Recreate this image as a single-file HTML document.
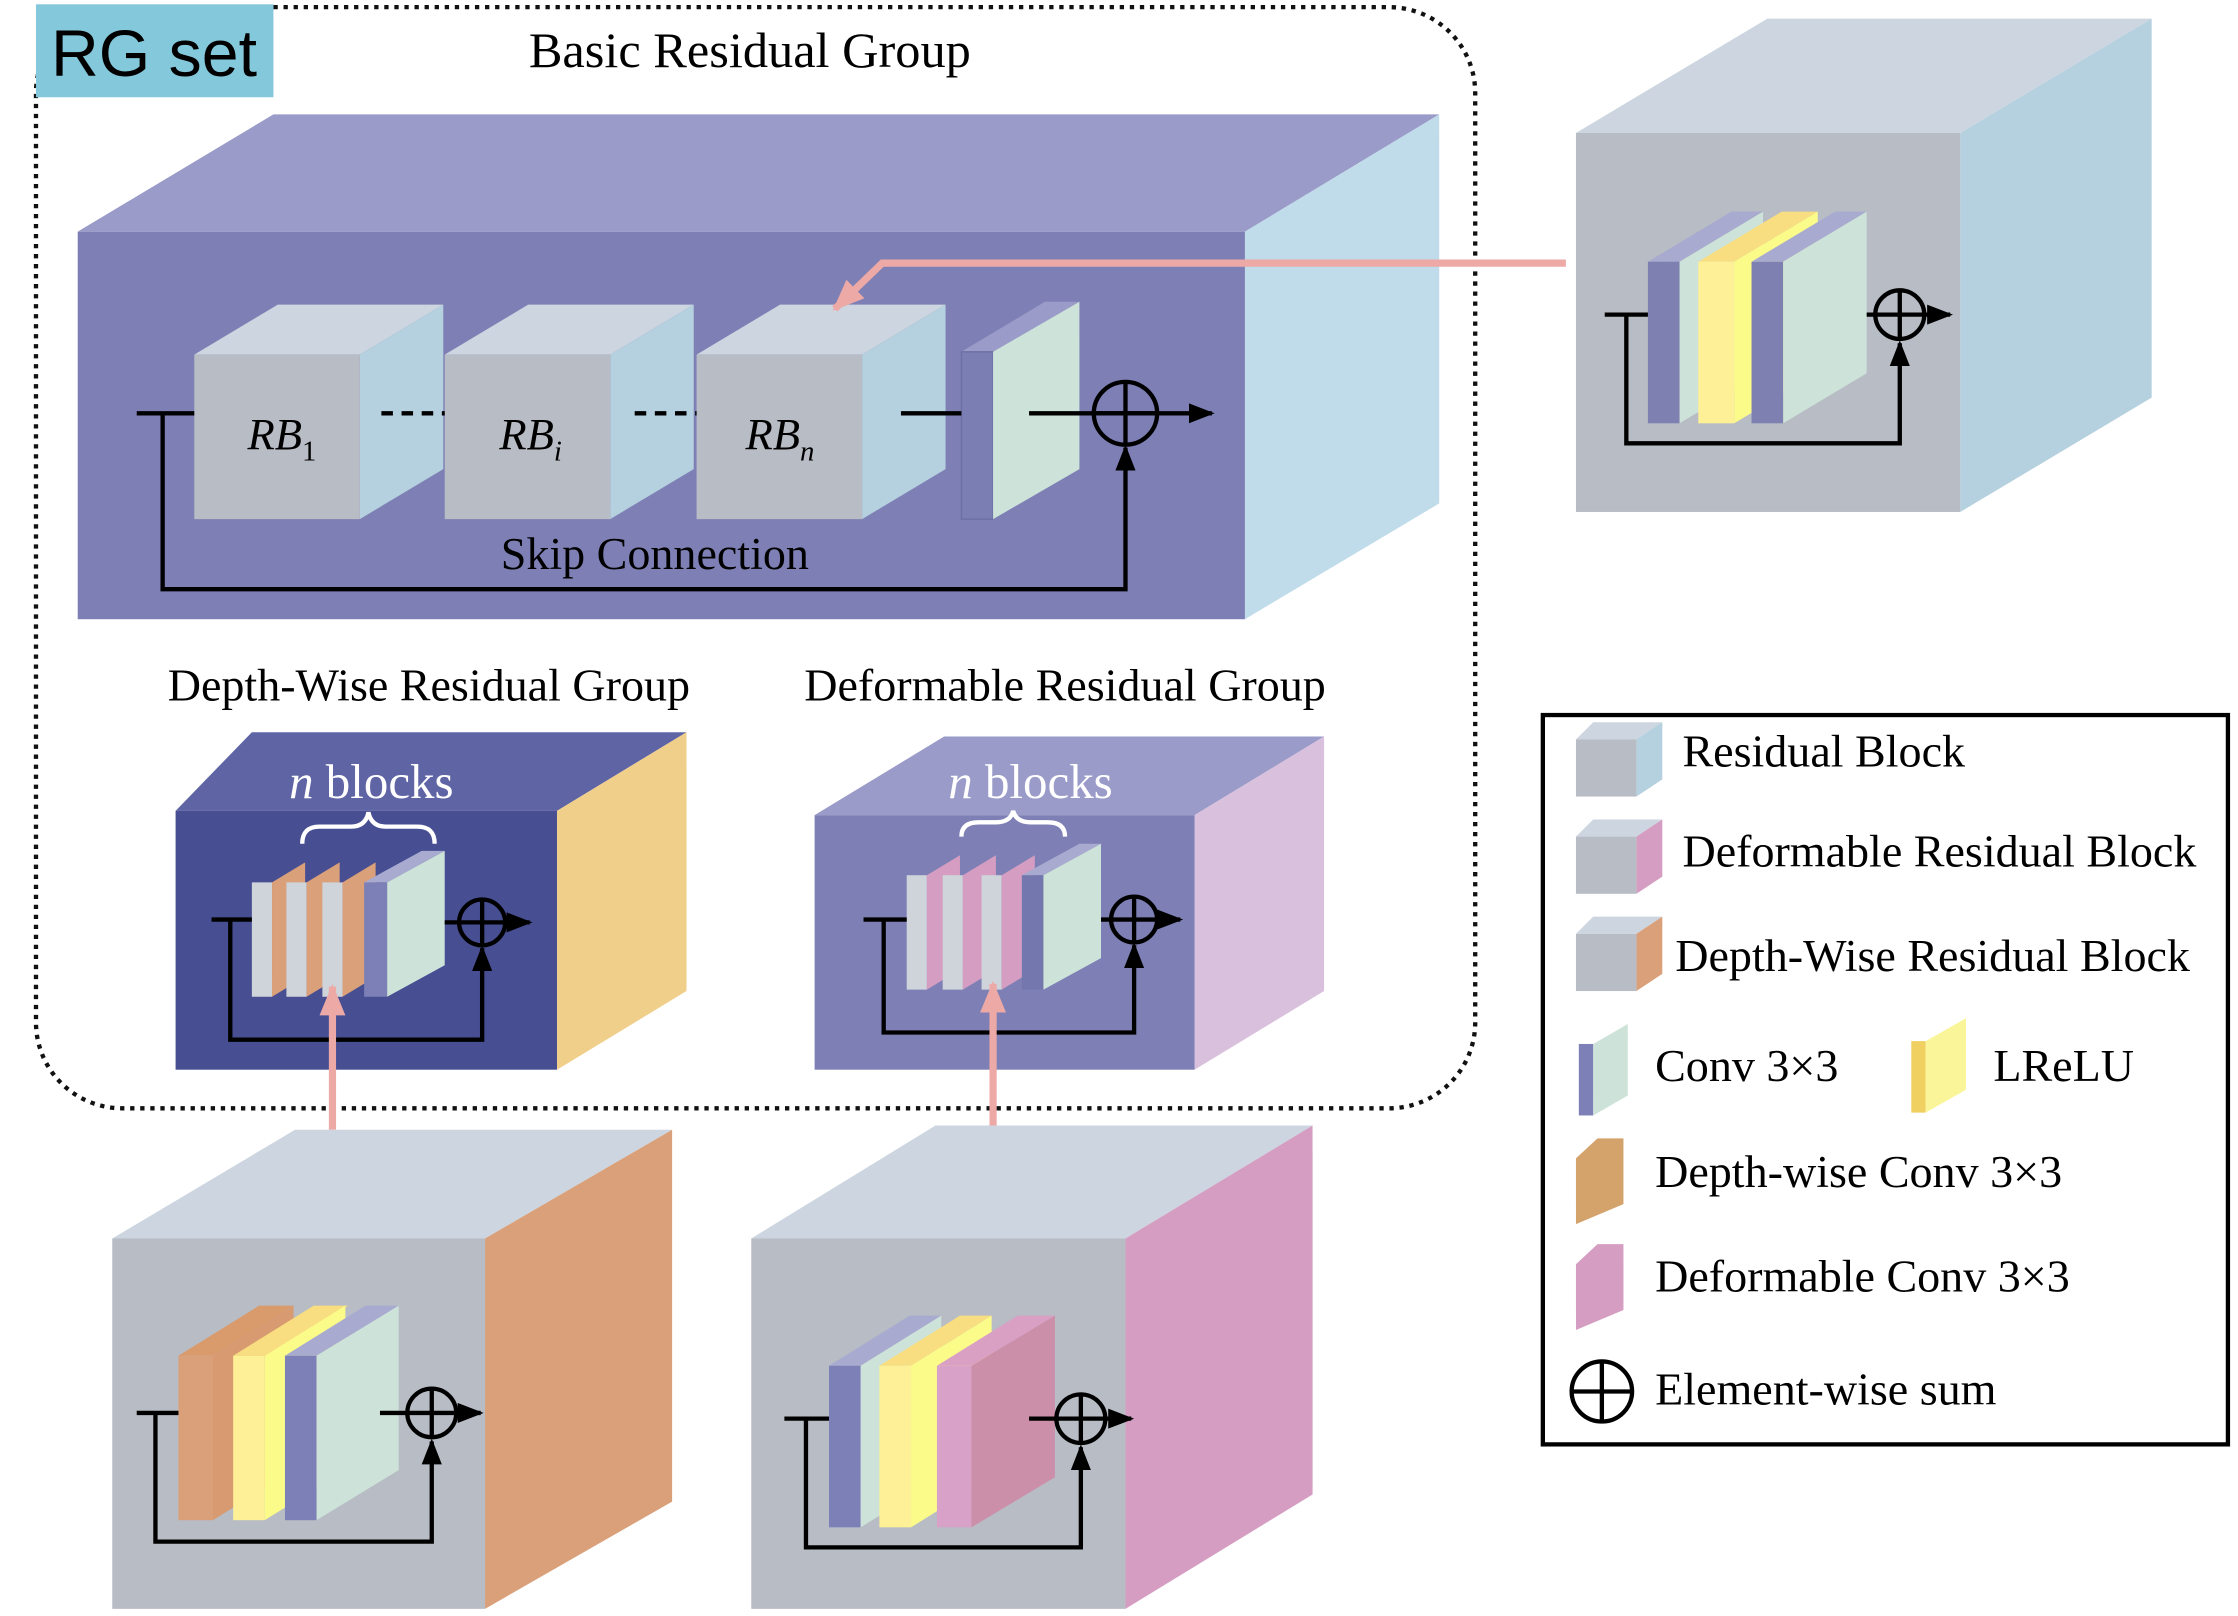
<!DOCTYPE html>
<html><head><meta charset="utf-8"><style>
html,body{margin:0;padding:0;background:#fff}
svg{display:block}
text{font-family:"Liberation Serif",serif}
</style></head><body>
<svg width="2238" height="1616" viewBox="0 0 1555 1130" preserveAspectRatio="none" xmlns="http://www.w3.org/2000/svg">
<defs>
<marker id="ab" markerWidth="18" markerHeight="14" refX="16" refY="7" orient="auto" markerUnits="userSpaceOnUse"><path d="M0,0 L18,7 L0,14 Z" fill="#000"/></marker>
<marker id="ap" markerWidth="22" markerHeight="18" refX="20" refY="9" orient="auto" markerUnits="userSpaceOnUse"><path d="M0,0 L22,9 L0,18 Z" fill="#eda9a6"/></marker>
</defs>

<rect x="25" y="5" width="1000" height="770" rx="60" fill="none" stroke="#111" stroke-width="3" stroke-dasharray="3,4"/>
<rect x="25" y="3" width="165" height="65" fill="#84c8dc"/>
<text x="107" y="53" text-anchor="middle" font-size="46" style="font-family:'Liberation Sans',sans-serif">RG set</text>
<text x="521" y="47" text-anchor="middle" font-size="35">Basic Residual Group</text>

<polygon points="54,162 190,80 1000,80 865,162" fill="#9a9bc8"/>
<polygon points="865,162 1000,80 1000,352 865,433" fill="#c0dcea"/>
<rect x="54" y="162" width="811" height="271" fill="#7e80b5"/>

<g id="rb">
<polygon points="135,248 193,213 308,213 250,248" fill="#cdd6e0"/>
<polygon points="250,248 308,213 308,328 250,363" fill="#b5d0de"/>
<rect x="135" y="248" width="115" height="115" fill="#b8bcc4"/>
</g>
<use href="#rb" x="174"/>
<use href="#rb" x="349"/>
<text x="172" y="314" font-size="31" font-style="italic">RB<tspan font-size="20" dy="8" font-style="normal">1</tspan></text>
<text x="347" y="314" font-size="31" font-style="italic">RB<tspan font-size="20" dy="8">i</tspan></text>
<text x="518" y="314" font-size="31" font-style="italic">RB<tspan font-size="20" dy="8">n</tspan></text>
<line x1="265" y1="289" x2="309" y2="289" stroke="#000" stroke-width="3" stroke-dasharray="8,6"/>
<line x1="441" y1="289" x2="484" y2="289" stroke="#000" stroke-width="3" stroke-dasharray="8,6"/>
<polygon points="668,246 726,211 750,211 690,246" fill="#9a9bc8"/>
<rect x="668" y="246" width="22" height="117" fill="#7a7eb2" stroke="#6c70a4" stroke-width="1"/>
<polygon points="690,246 750,211 750,328 690,363" fill="#cde3d9"/>
<line x1="95" y1="289" x2="135" y2="289" stroke="#000" stroke-width="3"/>
<line x1="626" y1="289" x2="668" y2="289" stroke="#000" stroke-width="3"/>
<line x1="715" y1="289" x2="842" y2="289" stroke="#000" stroke-width="3" marker-end="url(#ab)"/>
<circle cx="782" cy="289" r="22" fill="none" stroke="#000" stroke-width="3"/>
<line x1="760" y1="289" x2="804" y2="289" stroke="#000" stroke-width="3"/>
<line x1="782" y1="267" x2="782" y2="311" stroke="#000" stroke-width="3"/>
<polyline points="113,289 113,412 782,412 782,313" fill="none" stroke="#000" stroke-width="3" marker-end="url(#ab)"/>
<text x="455" y="398" text-anchor="middle" font-size="32">Skip Connection</text>

<polygon points="1095,93 1228,13 1495,13 1362,93" fill="#cdd6e0"/>
<polygon points="1362,93 1495,13 1495,278 1362,358" fill="#b5d0de"/>
<rect x="1095" y="93" width="267" height="265" fill="#b8bcc4"/>
<g>
<polygon points="1145,183 1203,148 1225,148 1167,183" fill="#a8aad0"/>
<rect x="1145" y="183" width="22" height="113" fill="#7d80b0"/>
<polygon points="1167,183 1225,148 1225,261 1167,296" fill="#cde3d9"/>
<polygon points="1180,183 1238,148 1263,148 1205,183" fill="#f8de80"/>
<rect x="1180" y="183" width="25" height="113" fill="#fdf096"/>
<polygon points="1205,183 1263,148 1263,261 1205,296" fill="#fbfb8a"/>
<polygon points="1217,183 1275,148 1297,148 1239,183" fill="#a8aad0"/>
<rect x="1217" y="183" width="22" height="113" fill="#7d80b0"/>
<polygon points="1239,183 1297,148 1297,261 1239,296" fill="#cde3d9"/>
</g>
<line x1="1115" y1="220" x2="1145" y2="220" stroke="#000" stroke-width="3"/>
<line x1="1297" y1="220" x2="1355" y2="220" stroke="#000" stroke-width="3" marker-end="url(#ab)"/>
<circle cx="1320" cy="220" r="17" fill="none" stroke="#000" stroke-width="3"/>
<line x1="1320" y1="203" x2="1320" y2="237" stroke="#000" stroke-width="3"/>
<polyline points="1130,220 1130,310 1320,310 1320,240" fill="none" stroke="#000" stroke-width="3" marker-end="url(#ab)"/>
<polyline points="1088,184 613,184 580,216" fill="none" stroke="#eda9a6" stroke-width="5" marker-end="url(#ap)"/>

<text x="298" y="490" text-anchor="middle" font-size="32">Depth-Wise Residual Group</text>
<polygon points="122,567 175,512 477,512 387,567" fill="#5f64a5"/>
<polygon points="387,567 477,512 477,693 387,748" fill="#f0cf8a"/>
<rect x="122" y="567" width="265" height="181" fill="#474e92"/>
<text x="258" y="558" text-anchor="middle" font-size="34" fill="#fff"><tspan font-style="italic">n</tspan> blocks</text>
<path d="M210,590 q0,-12 12,-12 h22 q10,0 12,-10 q2,10 12,10 h22 q12,0 12,12" fill="none" stroke="#fff" stroke-width="3"/>
<g>
<rect x="175" y="617" width="14" height="80" fill="#cfd3da"/><polygon points="189,617 212,603 212,683 189,697" fill="#d9a07a"/>
<rect x="199" y="617" width="14" height="80" fill="#cfd3da"/><polygon points="213,617 236,603 236,683 213,697" fill="#d9a07a"/>
<rect x="224" y="617" width="14" height="80" fill="#cfd3da"/><polygon points="238,617 261,603 261,683 238,697" fill="#d9a07a"/>
<polygon points="253,617 293,595 309,595 269,617" fill="#a8aad0"/>
<rect x="253" y="617" width="16" height="80" fill="#7d80b6"/><polygon points="269,617 309,595 309,675 269,697" fill="#cde3d9"/>
</g>
<line x1="147" y1="643" x2="175" y2="643" stroke="#000" stroke-width="3"/>
<line x1="309" y1="645" x2="368" y2="645" stroke="#000" stroke-width="3" marker-end="url(#ab)"/>
<circle cx="335" cy="645" r="16" fill="none" stroke="#000" stroke-width="3"/>
<line x1="335" y1="629" x2="335" y2="661" stroke="#000" stroke-width="3"/>
<polyline points="160,643 160,727 335,727 335,663" fill="none" stroke="#000" stroke-width="3" marker-end="url(#ab)"/>

<text x="740" y="490" text-anchor="middle" font-size="32">Deformable Residual Group</text>
<polygon points="566,570 656,515 920,515 830,570" fill="#9a9bc8"/>
<polygon points="830,570 920,515 920,693 830,748" fill="#d9c0dc"/>
<rect x="566" y="570" width="264" height="178" fill="#7e80b5"/>
<text x="716" y="558" text-anchor="middle" font-size="34" fill="#fff"><tspan font-style="italic">n</tspan> blocks</text>
<path d="M668,585 q0,-10 12,-10 h12 q10,0 12,-8 q2,8 12,8 h12 q12,0 12,10" fill="none" stroke="#fff" stroke-width="3"/>
<g>
<rect x="630" y="612" width="14" height="80" fill="#cfd3da"/><polygon points="644,612 667,598 667,678 644,692" fill="#d49dc1"/>
<rect x="655" y="612" width="14" height="80" fill="#cfd3da"/><polygon points="669,612 692,598 692,678 669,692" fill="#d49dc1"/>
<rect x="682" y="612" width="14" height="80" fill="#cfd3da"/><polygon points="696,612 719,598 719,678 696,692" fill="#d49dc1"/>
<polygon points="710,612 750,590 765,590 725,612" fill="#a8aad0"/>
<rect x="710" y="612" width="15" height="80" fill="#7377ad"/><polygon points="725,612 765,590 765,670 725,692" fill="#cde3d9"/>
</g>
<line x1="600" y1="643" x2="630" y2="643" stroke="#000" stroke-width="3"/>
<line x1="765" y1="643" x2="820" y2="643" stroke="#000" stroke-width="3" marker-end="url(#ab)"/>
<circle cx="788" cy="643" r="16" fill="none" stroke="#000" stroke-width="3"/>
<line x1="788" y1="627" x2="788" y2="659" stroke="#000" stroke-width="3"/>
<polyline points="614,643 614,722 788,722 788,661" fill="none" stroke="#000" stroke-width="3" marker-end="url(#ab)"/>

<line x1="231" y1="790" x2="231" y2="690" stroke="#eda9a6" stroke-width="5" marker-end="url(#ap)"/>
<line x1="690" y1="787" x2="690" y2="688" stroke="#eda9a6" stroke-width="5" marker-end="url(#ap)"/>

<polygon points="78,866 205,790 467,790 337,866" fill="#cdd6e0"/>
<polygon points="337,866 467,790 467,1050 337,1125" fill="#d9a07a"/>
<rect x="78" y="866" width="259" height="259" fill="#b8bcc4"/>
<g>
<polygon points="124,948 180,913 204,913 148,948" fill="#d99a6c"/>
<rect x="124" y="948" width="24" height="115" fill="#d9a07a"/><polygon points="148,948 204,913 204,1028 148,1063" fill="#d89a70"/>
<polygon points="162,948 218,913 242,913 184,948" fill="#f8de80"/>
<rect x="162" y="948" width="22" height="115" fill="#fdf096"/><polygon points="184,948 240,913 240,1028 184,1063" fill="#fbfb8a"/>
<polygon points="198,948 254,913 277,913 220,948" fill="#a8aad0"/>
<rect x="198" y="948" width="22" height="115" fill="#7d80b6"/><polygon points="220,948 277,913 277,1028 220,1063" fill="#cde3d9"/>
</g>
<line x1="95" y1="988" x2="124" y2="988" stroke="#000" stroke-width="3"/>
<line x1="264" y1="988" x2="334" y2="988" stroke="#000" stroke-width="3" marker-end="url(#ab)"/>
<circle cx="300" cy="988" r="17" fill="none" stroke="#000" stroke-width="3"/>
<line x1="300" y1="971" x2="300" y2="1005" stroke="#000" stroke-width="3"/>
<polyline points="108,988 108,1078 300,1078 300,1008" fill="none" stroke="#000" stroke-width="3" marker-end="url(#ab)"/>

<polygon points="522,866 650,787 912,787 782,866" fill="#cdd6e0"/>
<polygon points="782,866 912,787 912,1045 782,1125" fill="#d49dc1"/>
<rect x="522" y="866" width="260" height="259" fill="#b8bcc4"/>
<g>
<polygon points="576,955 632,920 654,920 598,955" fill="#a8aad0"/>
<rect x="576" y="955" width="22" height="113" fill="#7d80b6"/><polygon points="598,955 654,920 654,1033 598,1068" fill="#cde3d9"/>
<polygon points="611,955 667,920 689,920 633,955" fill="#f8de80"/>
<rect x="611" y="955" width="22" height="113" fill="#fdf096"/><polygon points="633,955 689,920 689,1033 633,1068" fill="#fbfb8a"/>
<polygon points="651,955 707,920 733,920 675,955" fill="#d9a0c4"/>
<rect x="651" y="955" width="24" height="113" fill="#d7a1c8"/><polygon points="675,955 733,920 733,1033 675,1068" fill="#cc8faa"/>
</g>
<line x1="545" y1="992" x2="576" y2="992" stroke="#000" stroke-width="3"/>
<line x1="715" y1="992" x2="786" y2="992" stroke="#000" stroke-width="3" marker-end="url(#ab)"/>
<circle cx="751" cy="992" r="17" fill="none" stroke="#000" stroke-width="3"/>
<line x1="751" y1="975" x2="751" y2="1009" stroke="#000" stroke-width="3"/>
<polyline points="560,992 560,1082 751,1082 751,1012" fill="none" stroke="#000" stroke-width="3" marker-end="url(#ab)"/>

<rect x="1072" y="500" width="476" height="510" fill="none" stroke="#000" stroke-width="3"/>
<g font-size="32">
<polygon points="1095,517 1107,505 1155,505 1137,517" fill="#cdd6e0"/>
<polygon points="1137,517 1155,505 1155,545 1137,557" fill="#b5d0de"/>
<rect x="1095" y="517" width="42" height="40" fill="#b8bcc4"/>
<text x="1169" y="536">Residual Block</text>
<polygon points="1095,585 1107,573 1155,573 1137,585" fill="#cdd6e0"/>
<polygon points="1137,585 1155,573 1155,613 1137,625" fill="#d49dc1"/>
<rect x="1095" y="585" width="42" height="40" fill="#b8bcc4"/>
<text x="1169" y="606">Deformable Residual Block</text>
<polygon points="1095,653 1107,641 1155,641 1137,653" fill="#cdd6e0"/>
<polygon points="1137,653 1155,641 1155,681 1137,693" fill="#d9a07a"/>
<rect x="1095" y="653" width="42" height="40" fill="#b8bcc4"/>
<text x="1164" y="679">Depth-Wise Residual Block</text>
<rect x="1097" y="730" width="10" height="50" fill="#7d80b6"/><polygon points="1107,730 1131,716 1131,766 1107,780" fill="#cde3d9"/>
<text x="1150" y="756">Conv 3×3</text>
<rect x="1328" y="728" width="10" height="50" fill="#f0d060"/><polygon points="1338,728 1366,712 1366,762 1338,778" fill="#fbf59a"/>
<text x="1385" y="756">LReLU</text>
<polygon points="1095,810 1110,796 1128,796 1128,842 1095,856" fill="#d4a36c"/>
<text x="1150" y="830">Depth-wise Conv 3×3</text>
<polygon points="1095,884 1110,870 1128,870 1128,916 1095,930" fill="#d49dc1"/>
<text x="1150" y="903">Deformable Conv 3×3</text>
<circle cx="1113" cy="973" r="21" fill="none" stroke="#000" stroke-width="3"/>
<line x1="1092" y1="973" x2="1134" y2="973" stroke="#000" stroke-width="3"/>
<line x1="1113" y1="952" x2="1113" y2="994" stroke="#000" stroke-width="3"/>
<text x="1150" y="982">Element-wise sum</text>
</g>
</svg>
</body></html>
